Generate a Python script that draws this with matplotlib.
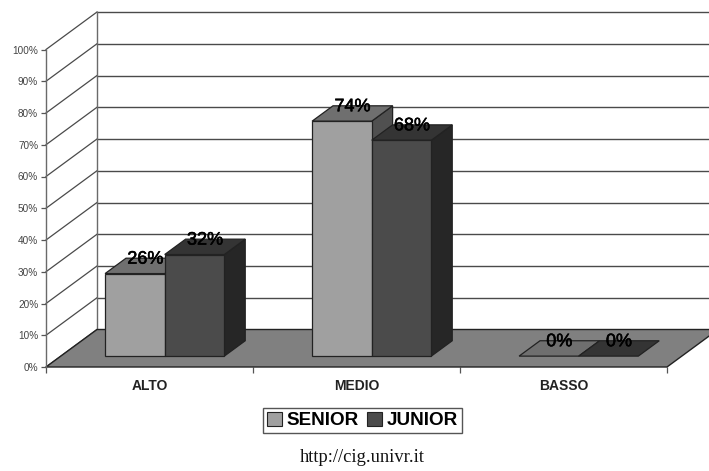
import matplotlib
matplotlib.use("Agg")
import matplotlib.pyplot as plt
import matplotlib.patheffects as pe
from matplotlib.patches import Patch, Polygon

plt.rcParams["font.family"] = ["Liberation Sans", "DejaVu Sans"]

categories = ["ALTO", "MEDIO", "BASSO"]
series_names = ["SENIOR", "JUNIOR"]
senior = [26, 74, 0]
junior = [32, 68, 0]
y_ticks = list(range(0, 101, 10))

W, H = 709, 471
# oblique offset of the back wall, in category units and percent
WALL_DX = 51 / 207
WALL_DY = 37.5 / 3.175
# bars stand between these fractions of the floor depth
BAR_NEAR = 0.29
BAR_FAR = 0.70
BAR_WIDTH = 0.288
GROUP_GAP = 0.214

EDGE = "#222222"
GRID = "#4a4a4a"
SENIOR_COLORS = {"front": "#a0a0a0", "top": "#6f6f6f", "side": "#505050"}
JUNIOR_COLORS = {"front": "#4b4b4b", "top": "#343434", "side": "#262626"}


def depth(x, y, d):
    return (x + WALL_DX * d, y + WALL_DY * d)


def draw_box(ax, x0, x1, value, colors, zorder):
    d0, d1 = BAR_NEAR, BAR_FAR
    faces = {
        "side": [depth(x1, 0, d0), depth(x1, 0, d1), depth(x1, value, d1), depth(x1, value, d0)],
        "top": [depth(x0, value, d0), depth(x1, value, d0), depth(x1, value, d1), depth(x0, value, d1)],
        "front": [depth(x0, 0, d0), depth(x1, 0, d0), depth(x1, value, d0), depth(x0, value, d0)],
    }
    for name, pts in faces.items():
        if value == 0 and name != "top":
            continue
        ax.add_patch(Polygon(pts, closed=True, facecolor=colors[name], edgecolor=EDGE,
                             linewidth=0.9, zorder=zorder, clip_on=False))


fig = plt.figure(figsize=(W / 100, H / 100), dpi=100, facecolor="white")
ax = fig.add_axes([46 / W, (H - 367) / H, 621 / W, 317.5 / H])
ax.set_xlim(0, len(categories))
ax.set_ylim(0, 100)
ax.patch.set_visible(False)
for spine in ax.spines.values():
    spine.set_visible(False)

# floor
ax.add_patch(Polygon([depth(0, 0, 0), depth(3, 0, 0), depth(3, 0, 1), depth(0, 0, 1)],
                     closed=True, facecolor="#808080", edgecolor=EDGE, linewidth=1.0,
                     zorder=2, clip_on=False))

# back wall gridlines and the slanted lines on the left wall
for t in y_ticks:
    bx, by = depth(0, t, 1)
    ax.plot([0, bx], [t, by], color=GRID, linewidth=0.9, zorder=1, clip_on=False)
    if t > 0:
        ax.plot([bx, depth(3, t, 1)[0]], [by, by], color=GRID, linewidth=1.0, zorder=1, clip_on=False)
bx, by = depth(0, 100, 1)
ax.plot([bx, bx], [WALL_DY, by], color="#6a6a6a", linewidth=1.0, zorder=1, clip_on=False)
ax.plot([0, 0], [0, 100], color="#6a6a6a", linewidth=1.0, zorder=3, clip_on=False)

# axis ticks
ax.set_yticks(y_ticks)
ax.set_yticklabels([f"{t}%" for t in y_ticks], fontsize=7.2, color="#444444")
ax.set_xticks(range(len(categories) + 1))
ax.set_xticklabels([])
ax.tick_params(axis="y", length=3.6, width=0.9, color="#555555", pad=2)
ax.tick_params(axis="x", length=4, width=0.9, color="#555555")

for i, cat in enumerate(categories):
    x_s = i + GROUP_GAP
    x_j = x_s + BAR_WIDTH
    x_e = x_j + BAR_WIDTH
    draw_box(ax, x_s, x_j, senior[i], SENIOR_COLORS, 4)
    draw_box(ax, x_j, x_e, junior[i], JUNIOR_COLORS, 5)
    # value labels sit over the back edge of each bar top
    mid = (BAR_NEAR + BAR_FAR) / 2
    for left, val in [(x_s, senior[i]), (x_j, junior[i])]:
        lx = depth(left + BAR_WIDTH / 2, val, mid)[0]
        ly = depth(left, val, BAR_FAR)[1]
        ax.text(lx, ly - 0.3, f"{val}%", ha="center", va="center", fontsize=13,
                color="#000000", zorder=6,
                path_effects=[pe.withStroke(linewidth=0.4, foreground="#000000")])
    ax.annotate(cat, xy=(i + 0.5, 0), xytext=(0, -13.5),
                xycoords="data", textcoords="offset points", ha="center", va="center",
                fontsize=10, fontweight="bold", color="#222222", annotation_clip=False)

handles = [
    Patch(facecolor=SENIOR_COLORS["front"], edgecolor=EDGE, linewidth=0.8, label=series_names[0]),
    Patch(facecolor=JUNIOR_COLORS["front"], edgecolor=EDGE, linewidth=0.8, label=series_names[1]),
]
fig.legend(handles=handles, ncol=2, loc="center", bbox_to_anchor=(362.5 / W, (H - 420.5) / H),
           frameon=True, fancybox=False, edgecolor="#555555", framealpha=1,
           handlelength=0.8, handleheight=0.8, handletextpad=0.28, columnspacing=0.4,
           borderpad=0.2, borderaxespad=0,
           prop={"weight": "bold", "size": 13.6})

fig.text(362 / W, (H - 457) / H, "http://cig.univr.it", ha="center", va="center",
         fontsize=13.3, family="Liberation Serif", color="#111111")

fig.savefig("out.png", dpi=100)
